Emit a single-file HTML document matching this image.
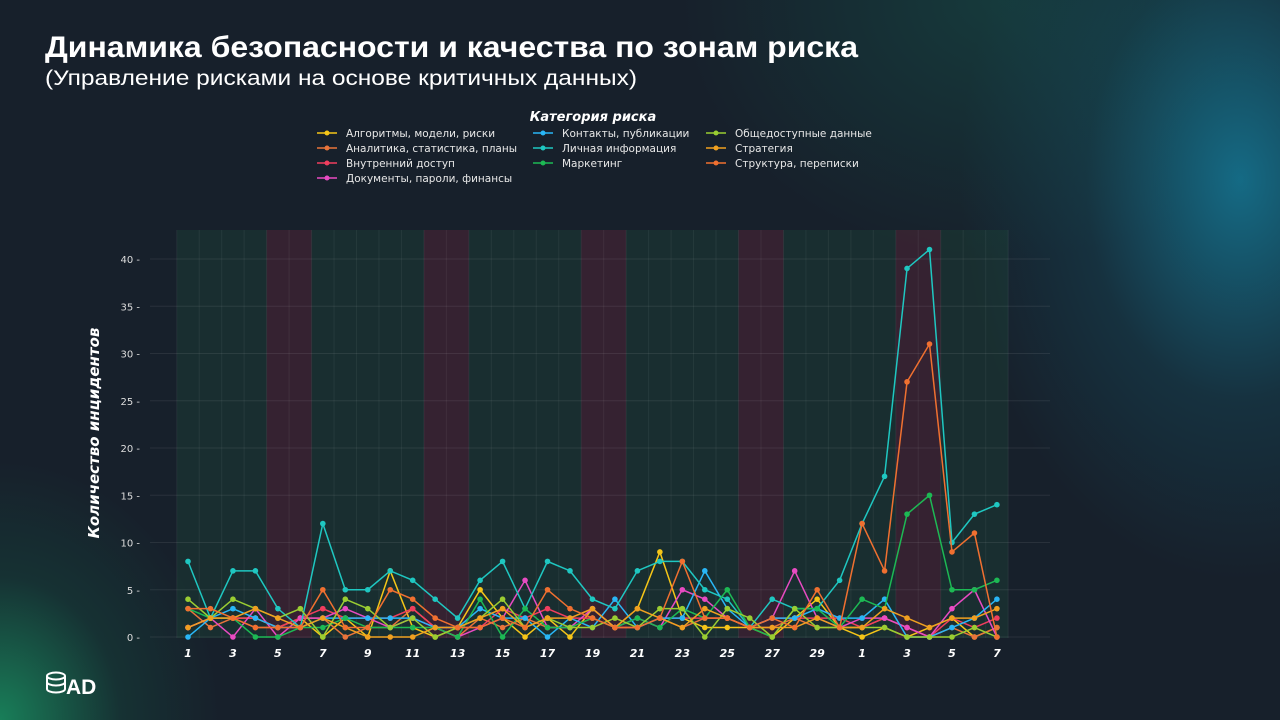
<!DOCTYPE html>
<html><head><meta charset="utf-8"><style>
body{margin:0;width:1280px;height:720px;overflow:hidden;font-family:"Liberation Sans","DejaVu Sans",sans-serif;
background:
radial-gradient(ellipse 280px 400px at 1240px 180px, rgba(20,125,155,0.8), rgba(20,90,110,0.3) 55%, rgba(0,0,0,0) 100%),
radial-gradient(ellipse 320px 260px at 1000px 0px, rgba(20,90,80,0.45), rgba(0,0,0,0) 100%),
radial-gradient(ellipse 220px 260px at 0px 720px, rgba(25,150,100,0.8), rgba(20,90,70,0.3) 55%, rgba(0,0,0,0) 100%),
#17202b;}
svg{position:absolute;left:0;top:0}
</style></head><body>
<svg id="s" width="1280" height="720" xmlns="http://www.w3.org/2000/svg" font-family="Liberation Sans, DejaVu Sans, sans-serif">
<text x="45" y="57" fill="#fff" font-size="30" font-weight="bold" textLength="813" lengthAdjust="spacingAndGlyphs">Динамика безопасности и качества по зонам риска</text>
<text x="45" y="85" fill="#fff" font-size="21" textLength="592" lengthAdjust="spacingAndGlyphs">(Управление рисками на основе критичных данных)</text>
<text x="593" y="121" fill="#fff" font-size="13" font-weight="bold" font-style="italic" text-anchor="middle" font-family="DejaVu Sans, sans-serif">Категория риска</text>
<g id="leg" font-size="10.5" fill="#e8e8e8" font-family="DejaVu Sans, sans-serif"></g>
<g id="plot"></g>
<text transform="translate(99,433) rotate(-90)" fill="#fff" font-size="15" font-weight="bold" font-style="italic" text-anchor="middle" font-family="DejaVu Sans, sans-serif">Количество инцидентов</text>
<g transform="translate(47,672)">
<ellipse cx="9" cy="4" rx="9" ry="3.5" fill="none" stroke="#fff" stroke-width="2"/>
<path d="M0 4 V17 A9 3.5 0 0 0 18 17 V4" fill="none" stroke="#fff" stroke-width="2"/>
<path d="M0 10 A9 3.5 0 0 0 18 10" fill="none" stroke="#fff" stroke-width="2"/>
<text x="19" y="22" fill="#fff" font-size="21" font-weight="bold">AD</text>
</g>
</svg>
<script>
const NS="http://www.w3.org/2000/svg";
const plot=document.getElementById('plot');
function el(t,a,p){const e=document.createElementNS(NS,t);for(const k in a)e.setAttribute(k,a[k]);(p||plot).appendChild(e);return e;}
const X=i=>188+i*22.47, Y=v=>637-v*9.45;
for(let i=0;i<37;i++){
 const red=[4,5,11,12,18,19,25,26,32,33].includes(i);
 const x0=Math.max(177,X(i)-11.25), x1=Math.min(1010,X(i)+11.25);
 el('rect',{x:x0,y:230,width:x1-x0,height:408,fill:red?'rgba(110,40,60,0.35)':'rgba(30,80,60,0.3)'});
}
for(let i=0;i<=37;i++){el('line',{x1:X(i)-11.25,x2:X(i)-11.25,y1:230,y2:638,stroke:'rgba(255,255,255,0.06)','stroke-width':1});}
for(let v=0;v<=40;v+=5){
 el('line',{x1:150,x2:1050,y1:Y(v),y2:Y(v),stroke:'rgba(255,255,255,0.08)','stroke-width':1});
 const t=el('text',{x:140,y:Y(v)+4,fill:'#ddd','font-size':10,'text-anchor':'end','font-family':'DejaVu Sans, sans-serif'});t.textContent=v+' -';
}
const labs=[];for(let d=1;d<=30;d++)labs.push(d);for(let d=1;d<=7;d++)labs.push(d);
for(let i=0;i<37;i+=2){const t=el('text',{x:X(i),y:657,fill:'#fff','font-size':11,'font-weight':'bold','font-style':'italic','text-anchor':'middle','font-family':'DejaVu Sans, sans-serif'});t.textContent=labs[i];}
const S=[
["Алгоритмы, модели, риски","#f5c518",[1,2,2,2,1,2,0,2,0,7,1,0,1,5,2,0,2,0,3,1,3,9,2,1,1,1,0,2,4,1,0,1,0,1,2,0,1]],
["Аналитика, статистика, планы","#e8743b",[3,1,2,1,1,2,2,0,1,1,3,1,0,2,1,2,1,1,2,1,1,2,1,2,2,1,1,2,1,1,1,2,1,0,1,0,1]],
["Внутренний доступ","#f03e5e",[1,2,2,2,1,2,3,2,2,2,3,1,1,1,3,2,3,2,2,1,1,2,2,2,2,1,2,2,2,2,1,2,1,0,2,1,2]],
["Документы, пароли, финансы","#e84bc2",[1,2,0,3,0,2,2,3,2,1,2,1,0,1,2,6,1,1,3,1,2,1,5,4,2,1,2,7,2,1,2,2,1,0,3,5,0]],
["Контакты, публикации","#29b6f6",[0,2,3,2,1,1,2,2,2,2,2,1,1,3,2,2,0,2,1,4,1,2,2,7,3,1,2,2,3,2,2,4,0,0,1,2,4]],
["Личная информация","#1fc7c1",[8,2,7,7,3,1,12,5,5,7,6,4,2,6,8,3,8,7,4,3,7,8,8,5,4,1,4,3,3,6,12,17,39,41,10,13,14]],
["Маркетинг","#1db954",[3,2,2,0,0,1,1,2,1,1,1,1,0,4,0,3,1,1,2,1,2,1,3,2,5,1,0,3,3,1,4,3,13,15,5,5,6]],
["Общедоступные данные","#9acd32",[4,2,4,3,2,3,0,4,3,1,2,0,1,2,4,1,2,1,1,2,1,3,3,0,3,2,0,3,1,1,1,1,0,0,0,1,0]],
["Стратегия","#f0a020",[1,2,2,3,2,1,2,1,0,0,0,1,1,2,3,1,2,2,3,1,3,2,1,3,2,1,1,1,2,1,1,3,2,1,2,2,3]],
["Структура, переписки","#f07030",[3,3,2,1,1,1,5,1,1,5,4,2,1,1,2,1,5,3,2,1,1,2,8,2,2,1,2,1,5,1,12,7,27,31,9,11,0]]
];
const pos=[[317,133],[317,148],[317,163],[317,178],[533,133],[533,148],[533,163],[706,133],[706,148],[706,163]];
const leg=document.getElementById('leg');
S.forEach((s,k)=>{
 const [px,py]=pos[k];
 el('line',{x1:px,x2:px+20,y1:py,y2:py,stroke:s[1],'stroke-width':1.5},leg);
 el('circle',{cx:px+10,cy:py,r:2.5,fill:s[1]},leg);
 const t=el('text',{x:px+29,y:py+4},leg);t.textContent=s[0];
 el('polyline',{points:s[2].map((v,i)=>X(i)+','+Y(v)).join(' '),fill:'none',stroke:s[1],'stroke-width':1.5});
 s[2].forEach((v,i)=>el('circle',{cx:X(i),cy:Y(v),r:2.8,fill:s[1]}));
});
</script>
</body></html>
